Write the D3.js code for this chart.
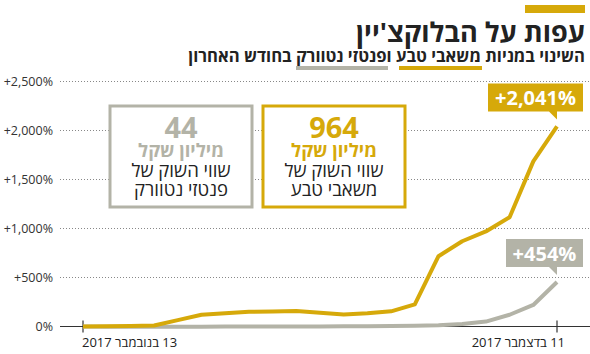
<!DOCTYPE html>
<html>
<head>
<meta charset="utf-8">
<script src="https://cdn.jsdelivr.net/npm/d3@7"></script>
<style>
  body { margin: 0; background: #fff; }
  svg { display: block; font-family: 'Open Sans', 'DejaVu Sans', sans-serif; }
</style>
</head>
<body>
<div id="chart"></div>
<script>
// trading days 13 Nov 2017 -> 11 Dec 2017
const days = d3.range(21)
const naturValues = [0, 2, 5, 10, 65, 120, 135, 150, 153, 157, 140, 122, 135, 155, 225, 717, 870, 970, 1115, 1685, 2041]
const fantasyValues = [0, -2, -3, -3, -2, -2, -1, 0, 0, 1, 1, 2, 3, 5, 8, 12, 25, 50, 120, 220, 454]
const yTicks = [0, 500, 1000, 1500, 2000, 2500]
const xLabels = [{ i: 0, text: '13 בנובמבר 2017' }, { i: 20, text: '11 בדצמבר 2017' }]

const gold = '#d6a90a'
const grey = '#b3b3a7'

const width = 590
const height = 354

const svg = d3.select('#chart')
    .append('svg')
    .attr('width', width)
    .attr('height', height)

const scaleX = d3.scaleLinear()
    .domain([0, 20])
    .range([83, 557])

const scaleY = d3.scaleLinear()
    .domain([0, 2500])
    .range([326.5, 81.5])

// shrink/grow a text's font so it spans the wanted width
const fitWidth = (sel, target) => {
    const size = +sel.attr('font-size')
    const w = sel.node().getComputedTextLength()
    sel.attr('font-size', (size * target / w).toFixed(2))
}

// title block
svg.append('rect')
    .attr('x', 525).attr('y', 5)
    .attr('width', 60).attr('height', 8)
    .attr('fill', gold)

const title = svg.append('text')
    .text('עפות על הבלוקצ\'יין')
    .attr('x', 585).attr('y', 42)
    .attr('text-anchor', 'end')
    .attr('font-size', 30)
    .attr('font-weight', 'bold')
    .attr('fill', '#222')
fitWidth(title, 229)

svg.append('rect')
    .attr('x', 399).attr('y', 66)
    .attr('width', 83).attr('height', 4)
    .attr('fill', gold)

svg.append('rect')
    .attr('x', 296).attr('y', 66)
    .attr('width', 92).attr('height', 4)
    .attr('fill', grey)

const subtitle = svg.append('text')
    .text('השינוי במניות משאבי טבע ופנטזי נטוורק בחודש האחרון')
    .attr('x', 585).attr('y', 62)
    .attr('text-anchor', 'end')
    .attr('font-size', 17)
    .attr('font-weight', 'bold')
    .attr('fill', '#222')
fitWidth(subtitle, 397)

// grid
const grid = svg.append('g').attr('id', 'grid')

grid.selectAll('line')
    .data(yTicks.filter(d => d > 0))
    .join('line')
    .attr('x1', 60).attr('x2', 590)
    .attr('y1', d => scaleY(d)).attr('y2', d => scaleY(d))
    .attr('stroke', '#888')
    .attr('stroke-width', 1)
    .attr('stroke-dasharray', '1,2')

grid.selectAll('text')
    .data(yTicks)
    .join('text')
    .text(d => d === 0 ? '0%' : '+' + d3.format(',')(d) + '%')
    .attr('x', 53)
    .attr('y', d => scaleY(d) + 4.5)
    .attr('text-anchor', 'end')
    .attr('font-size', 12.5)
    .attr('fill', '#333')

// legend boxes
const boxes = [
    { x: 263, color: gold, num: '964', lines: ['שווי השוק של', 'משאבי טבע'] },
    { x: 110, color: grey, num: '44', lines: ['שווי השוק של', 'פנטזי נטוורק'] }
]

const box = svg.append('g').selectAll('g')
    .data(boxes)
    .join('g')

box.append('rect')
    .attr('x', d => d.x).attr('y', 106)
    .attr('width', 142).attr('height', 101)
    .attr('fill', '#fff')
    .attr('stroke', d => d.color)
    .attr('stroke-width', 3)

box.append('text')
    .text(d => d.num)
    .attr('x', d => d.x + 71).attr('y', 138)
    .attr('text-anchor', 'middle')
    .attr('font-size', 29)
    .attr('font-weight', 'bold')
    .attr('fill', d => d.color)

box.append('text')
    .text('מיליון שקל')
    .attr('x', d => d.x + 71).attr('y', 157)
    .attr('text-anchor', 'middle')
    .attr('font-size', 18.5)
    .attr('font-weight', 'bold')
    .attr('fill', d => d.color)

box.append('text')
    .text(d => d.lines[0])
    .attr('x', d => d.x + 71).attr('y', 177)
    .attr('text-anchor', 'middle')
    .attr('font-size', 18.5)
    .attr('fill', '#222')

box.append('text')
    .text(d => d.lines[1])
    .attr('x', d => d.x + 71).attr('y', 196)
    .attr('text-anchor', 'middle')
    .attr('font-size', 18.5)
    .attr('fill', '#222')

// x axis
svg.append('line')
    .attr('x1', 60).attr('x2', 590)
    .attr('y1', scaleY(0)).attr('y2', scaleY(0))
    .attr('stroke', '#333')
    .attr('stroke-width', 1.2)

svg.selectAll('.tick')
    .data(xLabels)
    .join('line')
    .attr('class', 'tick')
    .attr('x1', d => scaleX(d.i)).attr('x2', d => scaleX(d.i))
    .attr('y1', scaleY(0) - 6).attr('y2', scaleY(0) + 6)
    .attr('stroke', '#333')
    .attr('stroke-width', 1.2)

svg.selectAll('.xlabel')
    .data(xLabels)
    .join('text')
    .attr('class', 'xlabel')
    .text(d => d.text)
    .attr('direction', 'rtl')
    .attr('x', (d, i) => i === 0 ? scaleX(d.i) - 1 : scaleX(d.i) + 8)
    .attr('y', 347)
    .attr('text-anchor', (d, i) => i === 0 ? 'end' : 'start')
    .attr('font-size', 13)
    .attr('fill', '#222')

// lines
const line = d3.line()
    .x((d, i) => scaleX(days[i]))
    .y(d => scaleY(d))

svg.append('path')
    .datum(fantasyValues)
    .attr('d', line)
    .attr('fill', 'none')
    .attr('stroke', grey)
    .attr('stroke-width', 4)
    .attr('stroke-linejoin', 'round')

svg.append('path')
    .datum(naturValues)
    .attr('d', line)
    .attr('fill', 'none')
    .attr('stroke', gold)
    .attr('stroke-width', 4)
    .attr('stroke-linejoin', 'round')

// callouts
const callouts = [
    { v: naturValues[20], color: gold, w: 95 },
    { v: fantasyValues[20], color: grey, w: 77 }
]

const callout = svg.append('g').selectAll('g')
    .data(callouts)
    .join('g')

callout.append('path')
    .attr('d', d => {
        const tipX = scaleX(20)
        const tipY = scaleY(d.v) - 7
        const bottom = tipY - 8
        const top = bottom - 28
        const right = 583
        const left = right - d.w
        return `M${left},${top}H${right}V${bottom}H${tipX}V${tipY}L${tipX - 8},${bottom}H${left}Z`
    })
    .attr('fill', d => d.color)

callout.append('text')
    .text(d => '+' + d3.format(',')(d.v) + '%')
    .attr('x', d => 583 - d.w / 2)
    .attr('y', d => scaleY(d.v) - 21)
    .attr('text-anchor', 'middle')
    .attr('font-size', 20)
    .attr('font-weight', 'bold')
    .attr('fill', '#fff')
</script>
</body>
</html>
